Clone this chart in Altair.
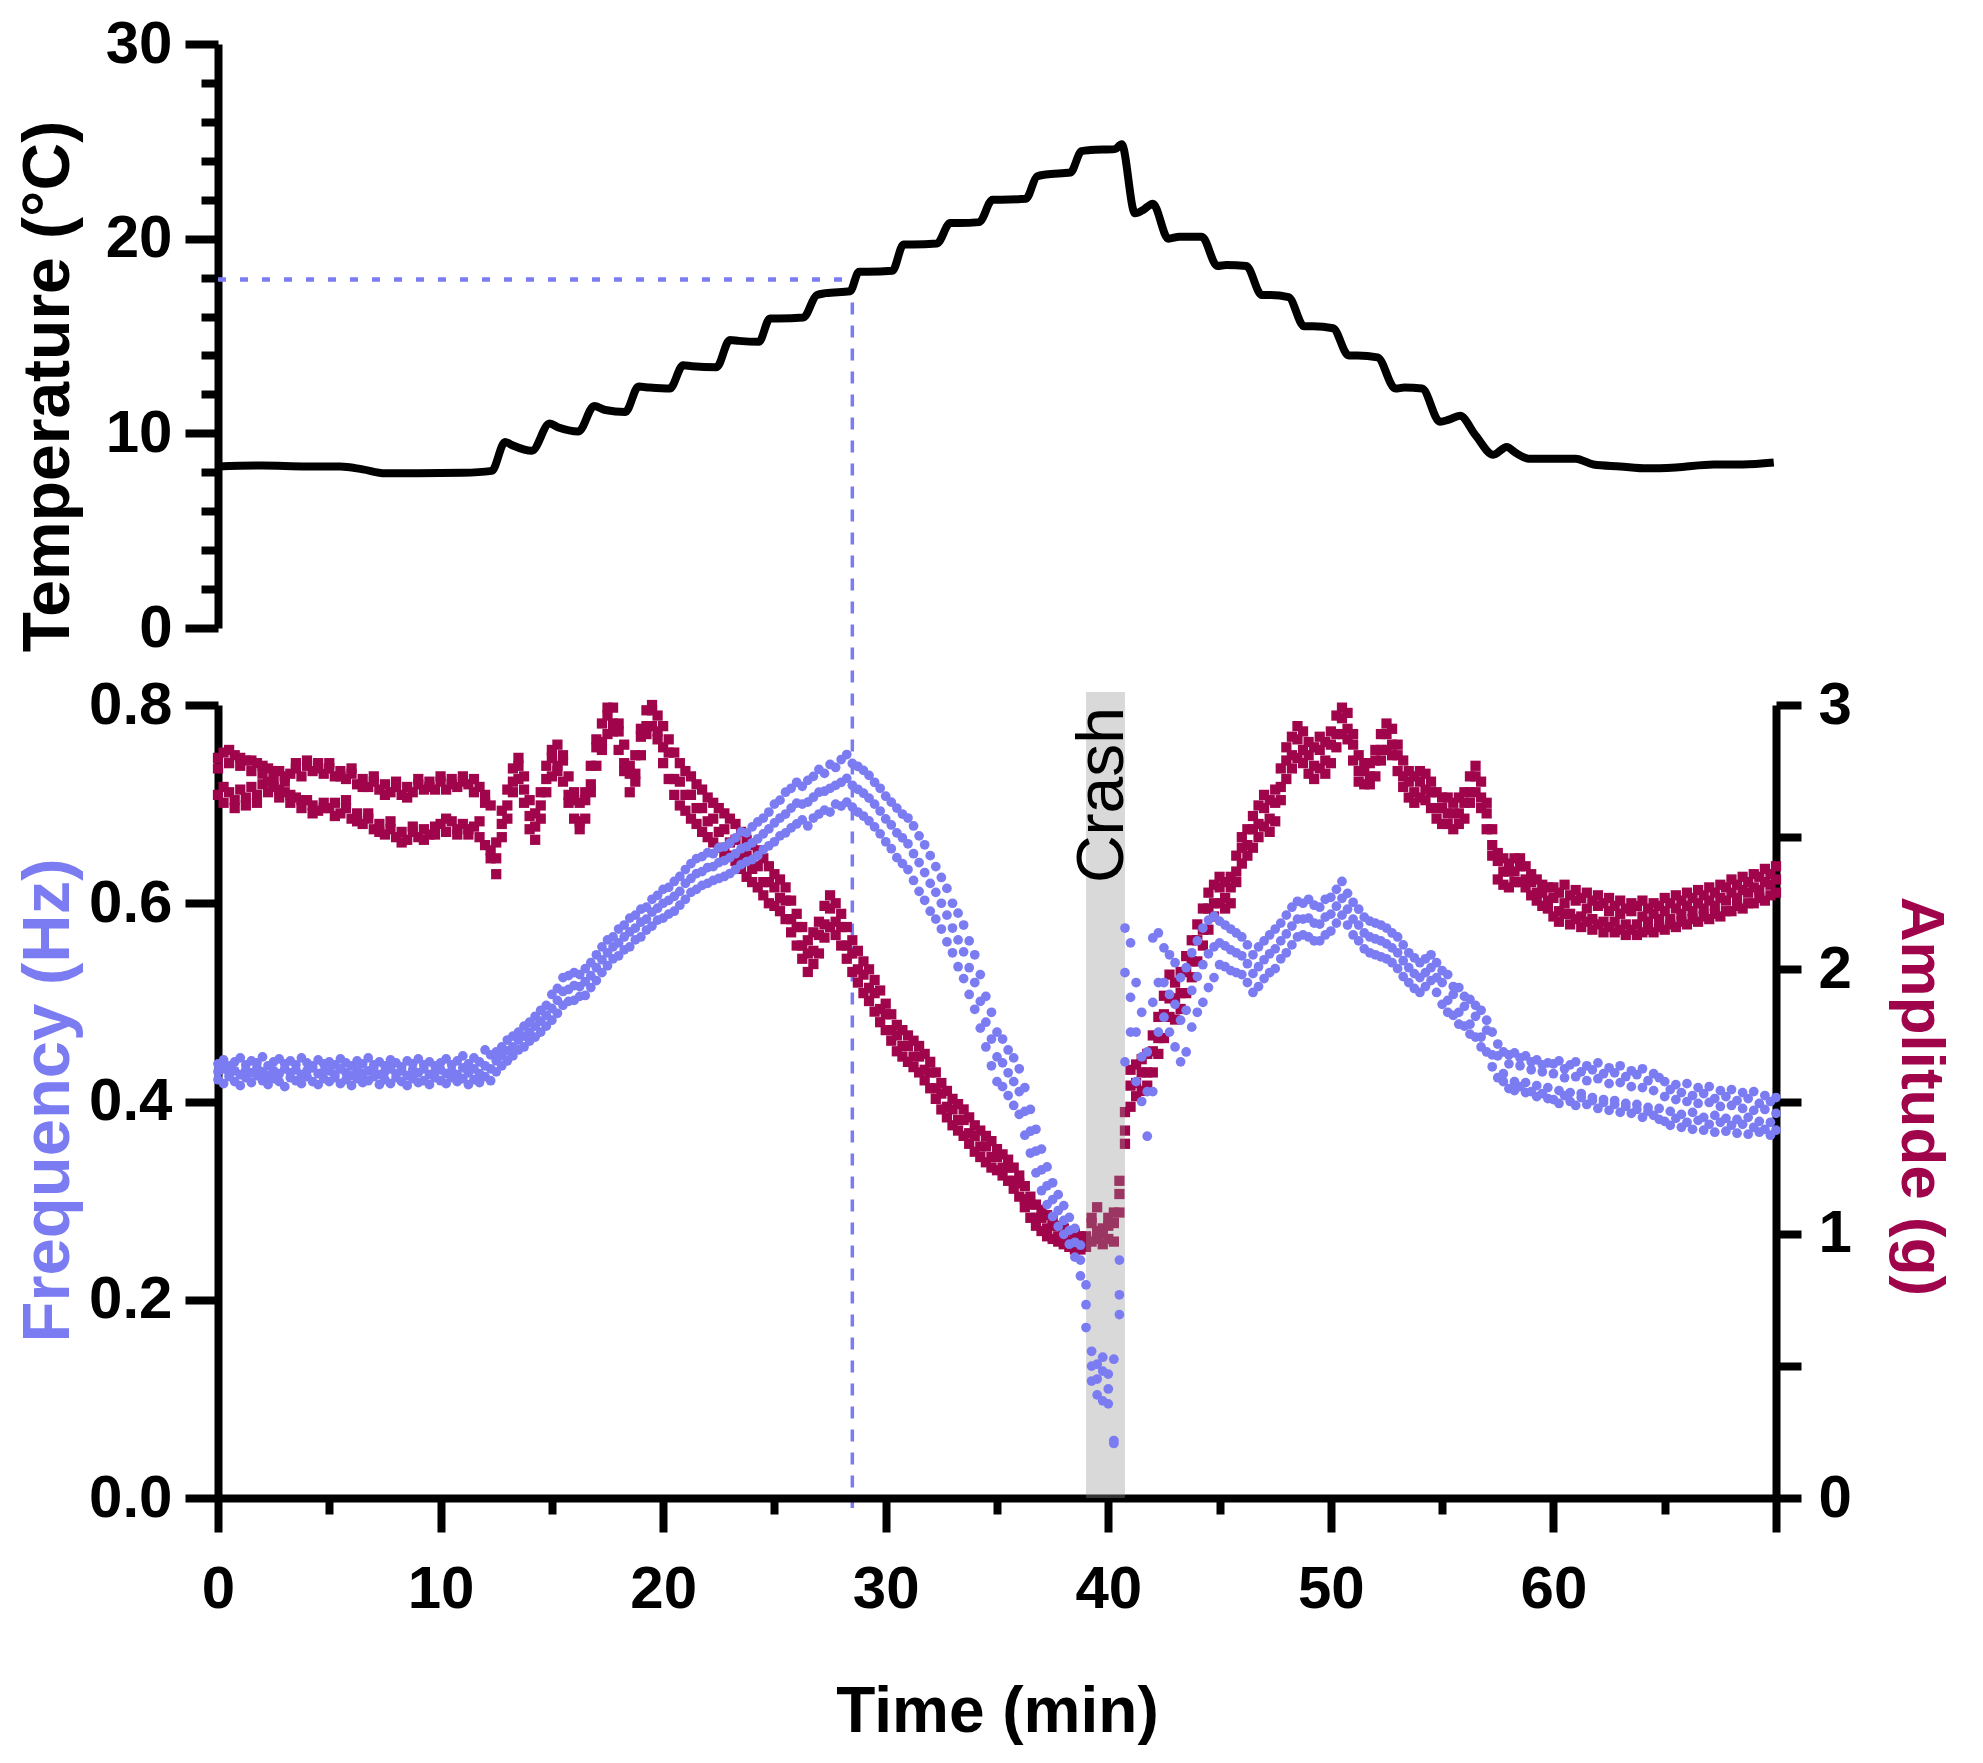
import altair as alt
import pandas as pd

BLUE = "#7b7cf2"
RED = "#a0054b"
FONT = "Liberation Sans"

# ---------------- data ----------------
# Temperature trace (time in min, temperature in deg C)
temp_time = [0, 2, 4, 5.5, 6.5, 7.5, 9, 11, 12.3, 12.9, 13.2, 14.1, 14.9, 15.3, 16.2, 16.9, 17.4,
             18.3, 18.9, 19.4, 20.3, 20.9, 21.3, 22.4, 23.0, 23.4, 24.3, 24.8, 25.2, 26.3, 26.9,
             27.3, 28.4, 28.8, 29.2, 30.3, 30.8, 31.2, 32.3, 32.9, 33.3, 34.2, 34.8, 35.2, 36.3,
             36.8, 37.2, 38.3, 38.8, 39.2, 40.3, 40.6, 41.2, 41.6, 42.0, 42.7, 43.2, 44.2, 44.9,
             45.3, 46.2, 46.9, 47.3, 48.1, 48.8, 49.2, 50.1, 50.8, 51.2, 52.1, 52.9, 53.3, 54.1,
             54.9, 55.3, 55.8, 56.5, 57.3, 57.9, 58.3, 58.9, 60, 61.0, 61.8, 63, 64.2, 65.5, 67.2,
             68.5, 69.9]
temp_value = [8.3, 8.35, 8.3, 8.3, 8.15, 7.95, 7.95, 7.97, 8.07, 9.56, 9.4, 9.1, 10.5, 10.3, 10.1,
              11.4, 11.2, 11.1, 12.4, 12.35, 12.3, 13.5, 13.45, 13.4, 14.8, 14.75, 14.7, 15.9, 15.9,
              15.95, 17.1, 17.2, 17.3, 18.3, 18.3, 18.35, 19.7, 19.7, 19.75, 20.8, 20.8, 20.85, 22.0,
              22.0, 22.05, 23.2, 23.3, 23.4, 24.5, 24.55, 24.6, 24.85, 21.3, 21.5, 21.8, 20.0, 20.1,
              20.1, 18.6, 18.65, 18.6, 17.1, 17.1, 17.0, 15.5, 15.5, 15.4, 14.0, 14.0, 13.9, 12.3,
              12.35, 12.3, 10.6, 10.7, 10.9, 9.9, 8.9, 9.3, 9.0, 8.7, 8.7, 8.7, 8.4, 8.3, 8.2, 8.25,
              8.4, 8.4, 8.5]

# Frequency (Hz), three interleaved tracks sampled every 0.25 min from 0 to 70
freq_track1 = [
    0.438, 0.442, 0.436, 0.440, 0.444, 0.437, 0.441, 0.439, 0.445, 0.436, 0.440, 0.443, 0.438, 0.441, 0.437, 0.444, 0.439, 0.436, 0.442, 0.438,
    0.440, 0.437, 0.443, 0.439, 0.436, 0.441, 0.438, 0.444, 0.437, 0.440, 0.436, 0.442, 0.439, 0.435, 0.441, 0.438, 0.443, 0.437, 0.440, 0.436,
    0.439, 0.443, 0.437, 0.441, 0.446, 0.438, 0.444, 0.440, 0.452, 0.447, 0.450, 0.455, 0.462, 0.466, 0.470, 0.476, 0.480, 0.486, 0.492, 0.497,
    0.508, 0.514, 0.525, 0.527, 0.530, 0.528, 0.534, 0.540, 0.548, 0.556, 0.563, 0.566, 0.574, 0.578, 0.585, 0.588, 0.594, 0.596, 0.604, 0.608,
    0.614, 0.616, 0.622, 0.627, 0.634, 0.640, 0.645, 0.647, 0.651, 0.650, 0.656, 0.657, 0.661, 0.666, 0.672, 0.671, 0.677, 0.682, 0.686, 0.692,
    0.700, 0.704, 0.712, 0.716, 0.722, 0.718, 0.724, 0.728, 0.735, 0.731, 0.740, 0.737, 0.745, 0.750, 0.741, 0.738, 0.734, 0.729, 0.722, 0.716,
    0.708, 0.702, 0.696, 0.690, 0.686, 0.678, 0.668, 0.659, 0.648, 0.637, 0.626, 0.615, 0.600, 0.590, 0.578, 0.562, 0.548, 0.528, 0.506, 0.490,
    0.470, 0.463, 0.452, 0.444, 0.433, 0.414, 0.392, 0.372, 0.352, 0.334, 0.318, 0.306, 0.295, 0.283, 0.272, 0.255, 0.215, 0.148, 0.135, 0.142,
    0.125, 0.058, 0.240, 0.575, 0.560, 0.520, 0.490, 0.450, 0.565, 0.570, 0.555, 0.548, 0.540, 0.525, 0.535, 0.550, 0.562, 0.575, 0.583, 0.587,
    0.582, 0.578, 0.574, 0.570, 0.566, 0.558, 0.548, 0.556, 0.562, 0.568, 0.574, 0.580, 0.588, 0.596, 0.602, 0.600, 0.604, 0.598, 0.596, 0.604,
    0.606, 0.614, 0.622, 0.610, 0.601, 0.594, 0.586, 0.582, 0.580, 0.578, 0.575, 0.570, 0.566, 0.558, 0.550, 0.545, 0.540, 0.544, 0.548, 0.540,
    0.532, 0.528, 0.516, 0.515, 0.506, 0.503, 0.497, 0.492, 0.482, 0.470, 0.458, 0.450, 0.447, 0.449, 0.444, 0.446, 0.440, 0.442, 0.437, 0.439,
    0.438, 0.441, 0.433, 0.437, 0.440, 0.430, 0.436, 0.432, 0.439, 0.428, 0.434, 0.429, 0.436, 0.425, 0.431, 0.427, 0.433, 0.421, 0.428, 0.424,
    0.420, 0.412, 0.417, 0.409, 0.418, 0.406, 0.414, 0.408, 0.415, 0.403, 0.411, 0.405, 0.412, 0.401, 0.409, 0.403, 0.410, 0.398, 0.406, 0.400, 0.404,
]
freq_track2 = [
    0.422, 0.418, 0.425, 0.420, 0.416, 0.424, 0.419, 0.426, 0.421, 0.417, 0.423, 0.420, 0.415, 0.424, 0.421, 0.418, 0.425, 0.420, 0.417, 0.423,
    0.420, 0.424, 0.418, 0.422, 0.416, 0.423, 0.419, 0.421, 0.425, 0.417, 0.422, 0.418, 0.424, 0.420, 0.416, 0.423, 0.419, 0.421, 0.417, 0.424,
    0.421, 0.418, 0.424, 0.420, 0.423, 0.417, 0.422, 0.419, 0.425, 0.421, 0.430, 0.436, 0.441, 0.446, 0.452, 0.455, 0.461, 0.465, 0.470, 0.476,
    0.482, 0.489, 0.497, 0.501, 0.502, 0.506, 0.507, 0.515, 0.522, 0.530, 0.537, 0.544, 0.547, 0.553, 0.556, 0.563, 0.566, 0.573, 0.577, 0.583,
    0.585, 0.589, 0.592, 0.598, 0.604, 0.611, 0.614, 0.618, 0.620, 0.623, 0.625, 0.627, 0.630, 0.634, 0.639, 0.642, 0.644, 0.648, 0.654, 0.658,
    0.662, 0.668, 0.671, 0.676, 0.680, 0.684, 0.678, 0.686, 0.690, 0.694, 0.692, 0.700, 0.698, 0.702, 0.697, 0.692, 0.688, 0.683, 0.677, 0.670,
    0.662, 0.655, 0.646, 0.640, 0.634, 0.623, 0.612, 0.603, 0.592, 0.584, 0.574, 0.561, 0.550, 0.536, 0.524, 0.508, 0.493, 0.474, 0.455, 0.436,
    0.420, 0.415, 0.406, 0.396, 0.387, 0.366, 0.348, 0.328, 0.310, 0.296, 0.284, 0.274, 0.266, 0.256, 0.243, 0.224, 0.172, 0.118, 0.104, 0.098,
    0.095, 0.055, 0.205, 0.440, 0.470, 0.420, 0.400, 0.365, 0.410, 0.470, 0.485, 0.470, 0.455, 0.440, 0.450, 0.475, 0.490, 0.500, 0.515, 0.525,
    0.538, 0.536, 0.532, 0.530, 0.528, 0.520, 0.510, 0.516, 0.524, 0.530, 0.534, 0.544, 0.550, 0.558, 0.566, 0.568, 0.566, 0.562, 0.562, 0.568,
    0.572, 0.580, 0.588, 0.578, 0.568, 0.562, 0.554, 0.550, 0.548, 0.546, 0.544, 0.540, 0.534, 0.526, 0.520, 0.514, 0.510, 0.516, 0.522, 0.510,
    0.498, 0.490, 0.487, 0.478, 0.476, 0.468, 0.465, 0.455, 0.450, 0.435, 0.424, 0.420, 0.413, 0.411, 0.415, 0.409, 0.410, 0.405, 0.408, 0.403,
    0.402, 0.398, 0.406, 0.400, 0.396, 0.404, 0.397, 0.401, 0.393, 0.399, 0.391, 0.397, 0.389, 0.395, 0.388, 0.392, 0.384, 0.390, 0.386, 0.382,
    0.380, 0.376, 0.383, 0.374, 0.379, 0.372, 0.381, 0.371, 0.377, 0.369, 0.379, 0.370, 0.376, 0.368, 0.377, 0.367, 0.374, 0.369, 0.372, 0.366, 0.371,
]
freq_track3 = [
    0.430, 0.433, 0.428, 0.431, 0.427, 0.432, 0.429, 0.434, 0.430, 0.426, 0.431, 0.428, 0.433, 0.429, 0.432, 0.427, 0.431, 0.434, 0.428, 0.430,
    0.431, 0.427, 0.433, 0.429, 0.426, 0.432, 0.428, 0.431, 0.434, 0.427, 0.430, 0.433, 0.428, 0.431, 0.426, 0.432, 0.429, 0.433, 0.427, 0.430,
    0.432, 0.428, 0.431, 0.427, 0.434, 0.429, 0.433, 0.428, 0.436, 0.433, 0.441, 0.446, 0.451, 0.455, 0.462, 0.466, 0.470, 0.476, 0.481, 0.487,
    0.494, 0.502, 0.511, 0.513, 0.517, 0.516, 0.521, 0.527, 0.535, 0.543, 0.550, 0.556, 0.560, 0.566, 0.571, 0.575, 0.581, 0.584, 0.591, 0.595,
    0.600, 0.603, 0.607, 0.612, 0.620, 0.625, 0.630, 0.632, 0.636, 0.637, 0.641, 0.643, 0.646, 0.650, 0.655, 0.657, 0.661, 0.665, 0.670, 0.675,
    0.681, 0.686, 0.690, 0.696, 0.701, 0.700, 0.702, 0.707, 0.712, 0.713, 0.716, 0.719, 0.722, 0.726, 0.719, 0.715, 0.711, 0.706, 0.700, 0.693,
    0.685, 0.679, 0.671, 0.666, 0.660, 0.650, 0.641, 0.631, 0.620, 0.611, 0.600, 0.588, 0.575, 0.563, 0.551, 0.535, 0.520, 0.501, 0.480, 0.463,
    0.445, 0.439, 0.429, 0.420, 0.410, 0.390, 0.370, 0.350, 0.331, 0.315, 0.301, 0.290, 0.280, 0.270, 0.258, 0.240, 0.195, 0.133, 0.120, 0.128,
    0.110, 0.140, 0.185, 0.530, 0.505, 0.470, 0.445, 0.410, 0.500, 0.520, 0.520, 0.508, 0.498, 0.482, 0.492, 0.512, 0.526, 0.538, 0.549, 0.556,
    0.560, 0.557, 0.553, 0.550, 0.547, 0.539, 0.529, 0.536, 0.543, 0.549, 0.554, 0.562, 0.569, 0.577, 0.584, 0.584, 0.585, 0.580, 0.579, 0.586,
    0.589, 0.597, 0.605, 0.594, 0.584, 0.578, 0.570, 0.566, 0.564, 0.562, 0.559, 0.555, 0.550, 0.542, 0.535, 0.529, 0.525, 0.530, 0.535, 0.525,
    0.520, 0.502, 0.508, 0.490, 0.496, 0.478, 0.486, 0.465, 0.472, 0.447, 0.446, 0.428, 0.438, 0.420, 0.436, 0.419, 0.432, 0.416, 0.430, 0.414,
    0.428, 0.411, 0.424, 0.409, 0.425, 0.408, 0.421, 0.404, 0.423, 0.402, 0.418, 0.401, 0.419, 0.398, 0.415, 0.397, 0.414, 0.394, 0.411, 0.393,
    0.405, 0.390, 0.402, 0.387, 0.400, 0.389, 0.398, 0.384, 0.399, 0.386, 0.395, 0.383, 0.396, 0.382, 0.393, 0.384, 0.391, 0.380, 0.392, 0.379, 0.388,
]

# Amplitude (g), three interleaved tracks sampled every 0.25 min from 0 to 70
amp_track1 = [
    2.80, 2.82, 2.78, 2.81, 2.77, 2.79, 2.75, 2.78, 2.74, 2.76, 2.72, 2.75, 2.71, 2.74, 2.76, 2.73, 2.77, 2.75, 2.78, 2.74,
    2.76, 2.73, 2.75, 2.72, 2.74, 2.70, 2.72, 2.69, 2.71, 2.68, 2.70, 2.67, 2.69, 2.66, 2.69, 2.67, 2.70, 2.68, 2.71, 2.68,
    2.71, 2.68, 2.72, 2.69, 2.73, 2.70, 2.72, 2.69, 2.66, 2.62, 2.48, 2.60, 2.68, 2.76, 2.80, 2.73, 2.64, 2.59, 2.67, 2.77,
    2.83, 2.85, 2.81, 2.73, 2.67, 2.63, 2.67, 2.77, 2.87, 2.93, 2.99, 2.99, 2.93, 2.85, 2.77, 2.81, 2.91, 2.98, 3.00, 2.96,
    2.92, 2.87, 2.82, 2.78, 2.75, 2.73, 2.70, 2.68, 2.65, 2.63, 2.61, 2.59, 2.57, 2.55, 2.52, 2.49, 2.47, 2.45, 2.42, 2.39,
    2.36, 2.34, 2.31, 2.26, 2.21, 2.16, 2.11, 2.14, 2.18, 2.24, 2.28, 2.25, 2.21, 2.16, 2.11, 2.07, 2.03, 2.00, 1.96, 1.92,
    1.87, 1.83, 1.79, 1.77, 1.75, 1.73, 1.71, 1.68, 1.65, 1.61, 1.57, 1.54, 1.51, 1.49, 1.47, 1.44, 1.41, 1.39, 1.37, 1.35,
    1.32, 1.30, 1.28, 1.25, 1.22, 1.18, 1.14, 1.11, 1.09, 1.07, 1.05, 1.03, 1.02, 1.01, 1.00, 0.99, 0.99, 1.04, 1.10, 1.02,
    1.06, 1.04, 1.20, 1.46, 1.62, 1.64, 1.66, 1.68, 1.75, 1.82, 1.90, 1.98, 1.95, 1.99, 2.05, 2.11, 2.17, 2.23, 2.29, 2.32,
    2.35, 2.33, 2.35, 2.43, 2.50, 2.53, 2.58, 2.62, 2.66, 2.64, 2.68, 2.76, 2.84, 2.88, 2.92, 2.90, 2.86, 2.84, 2.88, 2.86,
    2.90, 2.96, 2.99, 2.97, 2.89, 2.81, 2.78, 2.78, 2.83, 2.89, 2.93, 2.91, 2.85, 2.79, 2.75, 2.73, 2.75, 2.74, 2.71, 2.67,
    2.65, 2.65, 2.63, 2.65, 2.67, 2.73, 2.77, 2.71, 2.63, 2.53, 2.44, 2.42, 2.40, 2.42, 2.42, 2.39, 2.36, 2.34, 2.32, 2.31,
    2.31, 2.29, 2.32, 2.28, 2.30, 2.27, 2.29, 2.26, 2.28, 2.25, 2.27, 2.24, 2.26, 2.23, 2.25, 2.24, 2.26, 2.23, 2.25, 2.24,
    2.27, 2.25, 2.28, 2.26, 2.29, 2.27, 2.30, 2.28, 2.31, 2.29, 2.32, 2.31, 2.34, 2.32, 2.35, 2.33, 2.36, 2.35, 2.38, 2.36, 2.39,
]
amp_track2 = [
    2.66, 2.63, 2.67, 2.64, 2.68, 2.65, 2.69, 2.66, 2.70, 2.67, 2.69, 2.65, 2.67, 2.63, 2.65, 2.61, 2.64, 2.62, 2.60, 2.63,
    2.61, 2.63, 2.59, 2.61, 2.57, 2.59, 2.55, 2.57, 2.53, 2.55, 2.51, 2.53, 2.50, 2.52, 2.49, 2.52, 2.50, 2.53, 2.51, 2.54,
    2.55, 2.52, 2.56, 2.53, 2.55, 2.51, 2.54, 2.50, 2.47, 2.42, 2.36, 2.50, 2.57, 2.67, 2.72, 2.63, 2.53, 2.49, 2.57, 2.67,
    2.73, 2.75, 2.71, 2.63, 2.57, 2.53, 2.57, 2.67, 2.77, 2.83, 2.89, 2.90, 2.83, 2.75, 2.67, 2.71, 2.81, 2.89, 2.92, 2.87,
    2.78, 2.72, 2.66, 2.62, 2.60, 2.57, 2.55, 2.52, 2.50, 2.48, 2.46, 2.44, 2.43, 2.41, 2.38, 2.35, 2.33, 2.31, 2.28, 2.25,
    2.24, 2.22, 2.19, 2.14, 2.09, 2.04, 1.99, 2.02, 2.06, 2.12, 2.16, 2.13, 2.09, 2.04, 1.99, 1.95, 1.91, 1.88, 1.84, 1.80,
    1.77, 1.73, 1.69, 1.67, 1.65, 1.63, 1.61, 1.58, 1.55, 1.51, 1.47, 1.44, 1.41, 1.39, 1.37, 1.34, 1.31, 1.29, 1.27, 1.25,
    1.24, 1.22, 1.20, 1.17, 1.14, 1.10, 1.06, 1.03, 1.01, 0.99, 0.98, 0.97, 0.96, 0.95, 0.94, 0.94, 0.95, 0.97, 0.98, 0.96,
    0.98, 0.97, 1.08, 1.34, 1.48, 1.52, 1.54, 1.56, 1.61, 1.68, 1.74, 1.82, 1.81, 1.85, 1.91, 1.97, 2.03, 2.09, 2.15, 2.20,
    2.25, 2.23, 2.25, 2.33, 2.40, 2.43, 2.46, 2.50, 2.54, 2.52, 2.56, 2.64, 2.72, 2.76, 2.80, 2.78, 2.74, 2.72, 2.76, 2.74,
    2.78, 2.84, 2.89, 2.87, 2.79, 2.71, 2.70, 2.70, 2.73, 2.79, 2.83, 2.81, 2.75, 2.69, 2.65, 2.63, 2.65, 2.64, 2.61, 2.57,
    2.55, 2.55, 2.53, 2.55, 2.57, 2.63, 2.67, 2.61, 2.53, 2.43, 2.34, 2.32, 2.31, 2.33, 2.33, 2.31, 2.28, 2.26, 2.24, 2.23,
    2.20, 2.18, 2.21, 2.17, 2.19, 2.16, 2.18, 2.15, 2.17, 2.14, 2.16, 2.14, 2.15, 2.13, 2.15, 2.13, 2.14, 2.15, 2.14, 2.16,
    2.15, 2.17, 2.16, 2.18, 2.17, 2.19, 2.18, 2.20, 2.19, 2.21, 2.20, 2.22, 2.22, 2.24, 2.23, 2.25, 2.25, 2.27, 2.26, 2.28, 2.29,
]
amp_track3 = [
    2.76, 2.69, 2.83, 2.61, 2.80, 2.62, 2.79, 2.63, 2.77, 2.71, 2.75, 2.68, 2.73, 2.66, 2.78, 2.64, 2.79, 2.59, 2.76, 2.61,
    2.78, 2.58, 2.73, 2.64, 2.76, 2.56, 2.69, 2.59, 2.73, 2.52, 2.66, 2.56, 2.71, 2.48, 2.65, 2.54, 2.72, 2.49, 2.69, 2.51,
    2.73, 2.57, 2.70, 2.51, 2.71, 2.53, 2.67, 2.56, 2.63, 2.45, 2.42, 2.55, 2.62, 2.71, 2.77, 2.68, 2.58, 2.54, 2.62, 2.72,
    2.80, 2.77, 2.79, 2.66, 2.64, 2.56, 2.64, 2.70, 2.84, 2.86, 2.96, 2.93, 2.90, 2.78, 2.74, 2.74, 2.88, 2.92, 2.98, 2.90,
    2.84, 2.82, 2.72, 2.71, 2.66, 2.66, 2.61, 2.61, 2.56, 2.57, 2.52, 2.53, 2.48, 2.49, 2.43, 2.43, 2.38, 2.39, 2.33, 2.33,
    2.31, 2.27, 2.26, 2.19, 2.16, 2.09, 2.06, 2.07, 2.13, 2.17, 2.23, 2.18, 2.16, 2.09, 2.06, 2.00, 1.98, 1.93, 1.91, 1.85,
    1.83, 1.77, 1.75, 1.71, 1.71, 1.67, 1.67, 1.62, 1.61, 1.55, 1.53, 1.48, 1.47, 1.43, 1.43, 1.38, 1.37, 1.33, 1.33, 1.29,
    1.29, 1.25, 1.25, 1.20, 1.19, 1.13, 1.11, 1.06, 1.06, 1.02, 1.03, 0.99, 1.00, 0.97, 0.98, 0.95, 0.98, 1.06, 1.01, 1.00,
    1.03, 1.08, 1.15, 1.39, 1.56, 1.57, 1.61, 1.61, 1.69, 1.74, 1.83, 1.89, 1.89, 1.91, 1.99, 2.03, 2.11, 2.15, 2.23, 2.25,
    2.31, 2.27, 2.31, 2.37, 2.46, 2.47, 2.53, 2.55, 2.61, 2.57, 2.63, 2.69, 2.79, 2.81, 2.87, 2.83, 2.81, 2.77, 2.83, 2.79,
    2.85, 2.89, 2.95, 2.91, 2.85, 2.75, 2.75, 2.73, 2.79, 2.83, 2.89, 2.85, 2.81, 2.73, 2.71, 2.67, 2.71, 2.68, 2.67, 2.61,
    2.61, 2.59, 2.59, 2.59, 2.63, 2.67, 2.73, 2.65, 2.59, 2.47, 2.41, 2.37, 2.37, 2.37, 2.39, 2.34, 2.33, 2.29, 2.29, 2.26,
    2.27, 2.22, 2.25, 2.21, 2.26, 2.20, 2.23, 2.19, 2.24, 2.18, 2.22, 2.18, 2.21, 2.17, 2.22, 2.17, 2.20, 2.18, 2.21, 2.19,
    2.22, 2.19, 2.23, 2.21, 2.24, 2.22, 2.25, 2.23, 2.26, 2.24, 2.27, 2.26, 2.29, 2.27, 2.30, 2.29, 2.31, 2.30, 2.33, 2.32, 2.34,
]

# Guide line (temperature read at 28.5 min) and crash window
guide_time = [0.0, 28.5]
guide_temp = [17.9]
crash_window = [39.0, 40.75]
crash_label = ["Crash"]

# Axis ticks
time_major = [0, 10, 20, 30, 40, 50, 60, 70]
time_minor = [5, 15, 25, 35, 45, 55, 65]
temp_major = [0, 10, 20, 30]
temp_minor = [2, 4, 6, 8, 12, 14, 16, 18, 22, 24, 26, 28]
freq_ticks = [0, 0.2, 0.4, 0.6, 0.8]
amp_ticks = [0, 0.5, 1, 1.5, 2, 2.5, 3]

# ---------------- frames ----------------
def track(values, name):
    return pd.DataFrame({"t": [i * 0.25 for i in range(len(values))], name: values})

freq_df = pd.concat([track(freq_track1, "freq"), track(freq_track2, "freq"),
                     track(freq_track3, "freq")], ignore_index=True)
amp_df = pd.concat([track(amp_track1, "amp"), track(amp_track2, "amp"),
                    track(amp_track3, "amp")], ignore_index=True)
temp_df = pd.DataFrame({"t": temp_time, "temp": temp_value})
guide_df = pd.DataFrame({"x0": [guide_time[0]], "x1": [guide_time[1]], "y": guide_temp})
band_df = pd.DataFrame({"x0": [crash_window[0]], "x1": [crash_window[1]], "y0": [0.0], "y1": [0.813]})
crash_df = pd.DataFrame({"x": [40.66], "y": [0.798], "label": crash_label})

W = 1558
TOP_H = 584
GAP = 77
BOT_H = 793

x_scale = alt.Scale(domain=[0, 70], nice=False, zero=False)
temp_scale = alt.Scale(domain=[0, 30], nice=False)
freq_scale = alt.Scale(domain=[0, 0.8], nice=False)
amp_scale = alt.Scale(domain=[0, 3], nice=False)

common = dict(domainColor="black", domainWidth=8, tickColor="black", tickWidth=8,
              labelFont=FONT, labelFontWeight="bold", labelFontSize=60, labelColor="black",
              grid=False, titleFont=FONT, titleFontWeight="bold")
minor = dict(tickColor="black", tickWidth=8, labels=False, domain=False, grid=False, title="")

# ---------------- top panel ----------------
h_rule = alt.Chart(guide_df).mark_rule(color=BLUE, strokeWidth=4.5, strokeDash=[8, 14]).encode(
    x=alt.X("x0:Q", scale=x_scale, axis=None),
    x2="x1",
    y=alt.Y("y:Q", scale=temp_scale,
            axis=alt.Axis(orient="left", values=temp_minor, tickSize=17, **minor)),
)
v_rule = alt.Chart(guide_df).mark_rule(color=BLUE, strokeWidth=3.5, strokeDash=[12, 11]).encode(
    x=alt.X("x1:Q", scale=x_scale, axis=None),
    y=alt.Y("y:Q", scale=temp_scale, axis=None),
    y2=alt.value(TOP_H + GAP + BOT_H + 10),
)
temp_line = alt.Chart(temp_df).mark_line(color="black", strokeWidth=8, interpolate="monotone").encode(
    x=alt.X("t:Q", scale=x_scale, axis=None),
    y=alt.Y("temp:Q", scale=temp_scale,
            axis=alt.Axis(orient="left", values=temp_major, tickSize=33, labelPadding=13,
                          title="Temperature (°C)", titleFontSize=66, titleX=-170, titleY=342,
                          titleAngle=270, titleAlign="center", titleBaseline="middle", **common)),
)
top = alt.layer(h_rule, v_rule, temp_line).resolve_axis(y="independent").properties(
    width=W, height=TOP_H)

# ---------------- bottom panel ----------------
amp_pts = alt.Chart(amp_df).mark_square(color=RED, size=105, opacity=1).encode(
    x=alt.X("t:Q", scale=x_scale, axis=None),
    y=alt.Y("amp:Q", scale=amp_scale,
            axis=alt.Axis(orient="right", values=amp_ticks,
                          labelExpr="datum.value % 1 === 0 ? format(datum.value, 'd') : ''",
                          tickSize=25, labelPadding=17, title="Amplitude (g)", titleColor=RED,
                          titleFontSize=62, titleX=144, titleY=391, titleAngle=90,
                          titleAlign="center", titleBaseline="middle", **common)),
)
band = alt.Chart(band_df).mark_rect(color="#929292", opacity=0.35).encode(
    x=alt.X("x0:Q", scale=x_scale,
            axis=alt.Axis(orient="bottom", values=time_minor, tickSize=16, **minor)),
    x2="x1",
    y=alt.Y("y0:Q", scale=freq_scale, axis=None),
    y2="y1",
)
freq_pts = alt.Chart(freq_df).mark_circle(color=BLUE, size=95, opacity=1).encode(
    x=alt.X("t:Q", scale=x_scale,
            axis=alt.Axis(orient="bottom", values=time_major, tickSize=34, labelPadding=28,
                          labelFlush=False,
                          labelExpr="datum.value < 70 ? datum.label : ''",
                          title="Time (min)", titleFontSize=64, titleX=W / 2, titleY=214,
                          titleAlign="center", titleBaseline="middle", **common)),
    y=alt.Y("freq:Q", scale=freq_scale,
            axis=alt.Axis(orient="left", values=freq_ticks, format=".1f", tickSize=33,
                          labelPadding=13, title="Frequency (Hz)", titleColor=BLUE,
                          titleFontSize=67, titleX=-170, titleY=395, titleAngle=270,
                          titleAlign="center", titleBaseline="middle", **common)),
)
crash = alt.Chart(crash_df).mark_text(angle=270, align="right", baseline="alphabetic",
                                      fontSize=66, font=FONT, color="black").encode(
    x=alt.X("x:Q", scale=x_scale, axis=None),
    y=alt.Y("y:Q", scale=freq_scale, axis=None),
    text="label:N",
)
bottom = alt.layer(amp_pts, band, freq_pts, crash).resolve_scale(
    y="independent").resolve_axis(x="independent").properties(width=W, height=BOT_H)

chart = alt.vconcat(top, bottom, spacing=GAP, bounds="flush").properties(
    padding={"left": 6, "top": 6, "right": 6, "bottom": 4}, background="white"
).configure_view(stroke=None)

chart.save("out.html", embed_options={"renderer": "svg", "actions": False})
